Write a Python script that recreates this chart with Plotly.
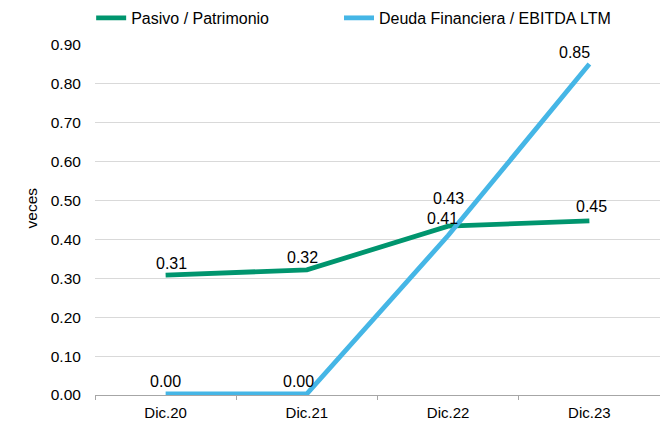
import plotly.graph_objects as go


periods = ["Dic.20", "Dic.21", "Dic.22", "Dic.23"]

pasivo_patrimonio = [0.308, 0.322, 0.434, 0.448]
deuda_ebitda = [0.003, 0.003, 0.41, 0.851]

y_ticks = [0.0, 0.1, 0.2, 0.3, 0.4, 0.5, 0.6, 0.7, 0.8, 0.9]

GREEN = "#00956e"
BLUE = "#45b6e6"
FONT = "Liberation Sans, Arial, sans-serif"


fig = go.Figure()

fig.add_trace(
    go.Scatter(
        x=periods,
        y=pasivo_patrimonio,
        mode="lines",
        name="Pasivo / Patrimonio",
        line=dict(color=GREEN, width=4.8),
        cliponaxis=False,
        legend="legend",
    )
)

fig.add_trace(
    go.Scatter(
        x=periods,
        y=deuda_ebitda,
        mode="lines",
        name="Deuda Financiera / EBITDA LTM",
        line=dict(color=BLUE, width=4.8),
        cliponaxis=False,
        legend="legend2",
    )
)


# data labels, nudged like the original (offsets in pixels)
green_shift = [(6, 12), (-4, 12), (0, 28), (2, 14)]
blue_shift = [(0, 12), (-8, 12), (-6, 17), (-15, 12)]

for vals, shifts in ((pasivo_patrimonio, green_shift), (deuda_ebitda, blue_shift)):
    for cat, val, (dx, dy) in zip(periods, vals, shifts):
        fig.add_annotation(
            x=cat,
            y=val,
            text=f"{val:.2f}",
            showarrow=False,
            xshift=dx,
            yshift=dy,
            font=dict(size=16, color="#000000", family=FONT),
        )


# y axis title, placed like the original
fig.add_annotation(
    text="veces",
    textangle=-90,
    xref="paper",
    yref="paper",
    x=-0.112,
    y=0.535,
    xanchor="center",
    yanchor="middle",
    showarrow=False,
    font=dict(size=15.5, color="#000000", family=FONT),
)


# the page adds an 8px body margin, so the figure is 8px smaller
legend_style = dict(
    orientation="h",
    xref="container",
    xanchor="left",
    y=0.976,
    yanchor="middle",
    yref="container",
    font=dict(size=16),
    bgcolor="rgba(0,0,0,0)",
)

fig.update_layout(
    width=660,
    height=415,
    margin=dict(l=87, r=8, t=37, b=28),
    paper_bgcolor="white",
    plot_bgcolor="white",
    font=dict(family=FONT, size=15.5, color="#000000"),
    showlegend=True,
    legend=dict(legend_style, x=0.126),
    legend2=dict(legend_style, x=0.5015),
    xaxis=dict(
        type="category",
        range=[-0.5, 3.5],
        showgrid=False,
        showline=True,
        linecolor="#a6a6a6",
        linewidth=1,
        ticks="outside",
        tickson="boundaries",
        ticklen=4,
        tickcolor="#a6a6a6",
        ticklabelstandoff=4,
        tickfont=dict(size=15),
        automargin=False,
    ),
    yaxis=dict(
        range=[0, 0.9],
        tickvals=y_ticks,
        tickformat=".2f",
        showgrid=True,
        gridcolor="#d9d9d9",
        gridwidth=1,
        zeroline=False,
        showline=False,
        ticks="outside",
        ticklen=10,
        tickcolor="rgba(0,0,0,0)",
        tickfont=dict(size=15.5),
        automargin=False,
    ),
)

fig.write_html("out.html")
